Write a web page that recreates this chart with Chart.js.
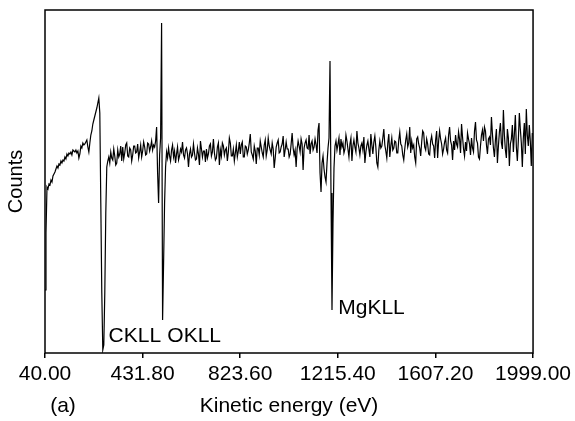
<!DOCTYPE html>
<html>
<head>
<meta charset="utf-8">
<script src="https://cdn.jsdelivr.net/npm/chart.js@4.4.1/dist/chart.umd.min.js"></script>
<style>
  html, body { margin: 0; padding: 0; background: #fff; }
  #wrap { width: 575px; height: 421px; }
</style>
</head>
<body>
<div id="wrap"><canvas id="aesChart" width="575" height="421"></canvas></div>
<script>
// AES survey spectrum, one reading every 4 eV from 40 eV
var startEnergy = 40;
var energyStep = 4;
var counts = [
    63, 120, 166, 164, 169, 168, 173, 171, 177, 179,
    181, 184, 187, 185, 189, 188, 192, 190, 193, 192,
    196, 194, 199, 197, 200, 199, 201, 198, 203, 202,
    201, 203, 200, 202, 195, 199, 207, 205, 210, 208,
    209, 211, 213, 206, 201, 210, 218, 222, 229, 233,
    237, 241, 245, 250, 255, 240, 150, 60, 3, 8,
    60, 140, 186, 192, 196, 190, 201, 195, 193, 204,
    197, 188, 190, 203, 196, 199, 207, 192, 206, 194,
    200, 208, 210, 197, 196, 205, 203, 192, 198, 207,
    207, 200, 201, 209, 195, 201, 208, 196, 202, 211,
    206, 198, 199, 210, 209, 202, 206, 212, 203, 208,
    206, 212, 226, 180, 150, 198, 215, 330, 33, 90,
    150, 186, 201, 195, 205, 197, 192, 203, 208, 196,
    202, 190, 199, 206, 193, 197, 204, 201, 211, 198,
    195, 203, 205, 199, 186, 199, 204, 196, 198, 209,
    200, 193, 194, 205, 199, 188, 212, 204, 196, 202,
    202, 191, 204, 195, 199, 207, 209, 197, 201, 214,
    200, 193, 195, 206, 210, 188, 203, 197, 210, 207,
    198, 203, 205, 192, 201, 215, 210, 197, 197, 204,
    192, 200, 208, 196, 202, 211, 199, 208, 211, 196,
    196, 207, 206, 199, 203, 210, 219, 201, 198, 194,
    207, 202, 189, 205, 205, 198, 212, 206, 200, 196,
    208, 213, 197, 203, 215, 207, 203, 199, 210, 204,
    185, 195, 206, 210, 213, 200, 201, 206, 209, 217,
    196, 203, 211, 204, 204, 196, 199, 209, 220, 205,
    198, 203, 186, 204, 212, 207, 201, 214, 209, 183,
    205, 210, 213, 205, 204, 218, 199, 209, 212, 203,
    206, 214, 208, 200, 223, 230, 180, 161, 190, 197,
    184, 176, 171, 190, 205, 215, 292, 160, 43, 130,
    185, 207, 212, 203, 209, 215, 198, 214, 206, 210,
    200, 204, 218, 212, 204, 196, 209, 215, 192, 207,
    213, 206, 201, 222, 210, 205, 198, 207, 210, 203,
    216, 190, 201, 208, 212, 204, 196, 219, 208, 199,
    211, 217, 206, 190, 186, 203, 212, 205, 207, 215,
    224, 208, 202, 195, 210, 219, 196, 207, 215, 203,
    205, 212, 211, 200, 200, 213, 221, 209, 207, 198,
    193, 204, 213, 219, 206, 210, 226, 200, 212, 205,
    208, 196, 190, 214, 216, 209, 205, 197, 211, 222,
    220, 206, 203, 214, 209, 199, 198, 212, 217, 209,
    207, 195, 213, 222, 195, 212, 222, 214, 209, 199,
    204, 211, 215, 203, 200, 218, 226, 212, 208, 193,
    212, 203, 218, 209, 206, 221, 214, 200, 229, 216,
    204, 197, 211, 202, 220, 214, 209, 198, 215, 205,
    201, 222, 231, 213, 210, 196, 194, 207, 218, 223,
    212, 226, 222, 208, 199, 214, 216, 208, 236, 219,
    205, 196, 213, 224, 190, 207, 221, 230, 210, 204,
    243, 218, 203, 195, 224, 215, 187, 209, 214, 228,
    201, 219, 238, 206, 192, 213, 240, 224, 210, 186,
    215, 230, 199, 244, 218, 207, 228, 212, 187, 220
];
var xTicks = [40.00, 431.80, 823.60, 1215.40, 1607.20, 1999.00];

// peak names and where they are written (energy, counts)
var peakNames = ['CKLL', 'OKLL', 'MgKLL'];
var peakAt = [[295, 17], [531, 17], [1217, 45]];

var points = counts.map(function (c, i) {
    return { x: startEnergy + energyStep * i, y: c };
});

var fontFamily = '"Liberation Sans", Arial, sans-serif';

var frameAndText = {
    id: 'frameAndText',
    afterDraw: function (chart) {
        var ctx = chart.ctx;
        var a = chart.chartArea;
        var xs = chart.scales.x;
        var ys = chart.scales.y;
        ctx.save();
        ctx.strokeStyle = '#000';
        ctx.lineWidth = 1.5;
        ctx.strokeRect(a.left, a.top, a.right - a.left, a.bottom - a.top);

        ctx.fillStyle = '#000';
        ctx.font = '21px ' + fontFamily;
        ctx.textBaseline = 'middle';
        ctx.textAlign = 'left';
        peakNames.forEach(function (name, i) {
            ctx.fillText(name, xs.getPixelForValue(peakAt[i][0]), ys.getPixelForValue(peakAt[i][1]));
        });

        // panel letter next to the axis title
        ctx.textAlign = 'center';
        ctx.fillText('(a)', a.left + 18, 406);
        ctx.restore();
    }
};

new Chart(document.getElementById('aesChart'), {
    type: 'line',
    data: {
        datasets: [{
            data: points,
            borderColor: '#000',
            borderWidth: 1.2,
            pointRadius: 0,
            tension: 0,
            fill: false
        }]
    },
    options: {
        responsive: false,
        animation: false,
        layout: { padding: { left: 0, right: 39, top: 10, bottom: 0 } },
        plugins: {
            legend: { display: false },
            tooltip: { enabled: false }
        },
        scales: {
            x: {
                type: 'linear',
                min: 40,
                max: 1999,
                afterBuildTicks: function (scale) {
                    scale.ticks = xTicks.map(function (v) { return { value: v }; });
                },
                afterFit: function (scale) { scale.height = 68; },
                ticks: {
                    autoSkip: false,
                    maxRotation: 0,
                    padding: 4,
                    color: '#000',
                    font: { family: fontFamily, size: 21 },
                    callback: function (v) { return v.toFixed(2); }
                },
                grid: {
                    display: true,
                    drawOnChartArea: false,
                    drawTicks: true,
                    tickLength: 5,
                    color: '#000',
                    lineWidth: 1.5
                },
                border: { display: false },
                title: {
                    display: true,
                    text: 'Kinetic energy (eV)',
                    color: '#000',
                    font: { family: fontFamily, size: 21 },
                    padding: { top: 0, bottom: 2 }
                }
            },
            y: {
                min: 0,
                max: 343,
                afterFit: function (scale) { scale.width = 45; },
                ticks: { display: false },
                grid: { display: false },
                border: { display: false },
                title: {
                    display: true,
                    text: 'Counts',
                    color: '#000',
                    font: { family: fontFamily, size: 20 },
                    padding: { top: 4, bottom: 0 }
                }
            }
        }
    },
    plugins: [frameAndText]
});
</script>
</body>
</html>
